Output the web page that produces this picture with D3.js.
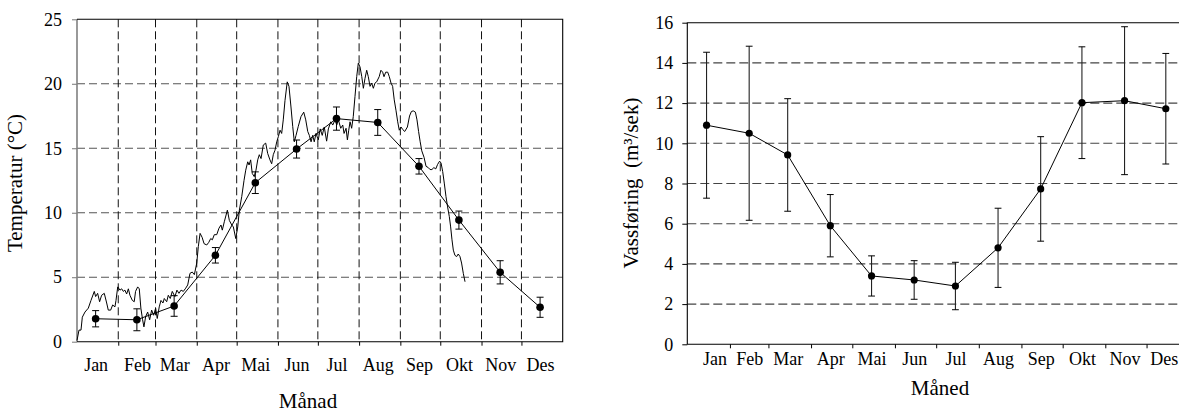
<!DOCTYPE html>
<html>
<head>
<meta charset="utf-8">
<script src="https://cdn.jsdelivr.net/npm/d3@7"></script>
<style>
  html, body { margin: 0; padding: 0; background: #fff; }
  svg { display: block; font-family: "Liberation Serif", "Times New Roman", serif; }
  .tick text { font-family: "Liberation Serif", "Times New Roman", serif; font-size: 18px; fill: #000; }
</style>
</head>
<body>
<svg id="chart" width="1179" height="412"></svg>
<script>
// Month names and lengths (x axes run over day of year)
const months = ["Jan", "Feb", "Mar", "Apr", "Mai", "Jun", "Jul", "Aug", "Sep", "Okt", "Nov", "Des"];
const monthDays = [31, 28, 31, 30, 31, 30, 31, 31, 30, 31, 30, 31];

// Monthly mean water temperature (°C) with ± spread
const tempMean = [1.78, 1.70, 2.77, 6.70, 12.33, 14.94, 17.30, 17.00, 13.60, 9.43, 5.38, 2.67];
const tempErr  = [0.63, 0.85, 0.80, 0.60, 0.84, 0.70, 0.90, 1.00, 0.60, 0.70, 0.90, 0.78];

// Daily temperature record for one year: [day of year, °C]
const dailyTemp = [
  [0,0.1],[1.5,0.9],[3,0.9],[4,1.9],[6,2.3],[8.5,2.6],[10.5,3.2],[13,3.9],[14,3.5],[15.5,3.75],
  [17,3.1],[18.5,3.6],[20.5,3.75],[22.3,3.0],[23.5,2.45],[25.3,2.45],[26.8,2.85],[28.5,2.7],[29.3,3.2],[30.6,4.25],
  [32.3,4.0],[33.6,4.1],[34.8,3.9],[36,4.0],[37.3,3.7],[38.6,4.1],[39.8,3.6],[41.6,3.2],[43,3.1],[44,3.9],
  [45.6,4.25],[46.8,4.1],[48,2.6],[49.3,1.7],[50.3,1.15],[51.6,1.95],[53.1,2.3],[54.6,1.7],[56.1,2.45],[57.6,2.05],
  [59.1,2.6],[60.3,1.8],[61.8,2.7],[63.1,3.2],[64.6,3.0],[65.6,3.35],[67.4,3.1],[68.6,3.6],[70.1,3.35],[71.6,3.9],
  [73.6,3.5],[75.1,4.0],[76.6,3.75],[78.2,4.0],[79.9,3.9],[81.7,4.15],[83.2,4.4],[84.9,5.3],[86.6,5.4],[88.2,5.2],
  [90,6.1],[91.2,7.4],[92.5,8.4],[94,8.1],[95.5,7.6],[97.5,7.5],[99,7.7],[100.5,8.0],[101.7,7.9],[103.2,8.3],
  [105,8.3],[106.7,8.8],[108.2,9.05],[109.2,8.65],[110.7,9.3],[113,10.2],[114.5,9.4],[116.3,9.05],[117.5,8.9],[119.3,8.0],
  [120.8,8.9],[122,10.2],[123.8,11.25],[125.5,12.5],[126.8,13.3],[128.3,13.95],[129.3,13.7],[130.5,14.1],[131.7,13.05],[133.2,12.8],
  [134.5,13.3],[135.8,14.1],[137,14.5],[138.3,14.2],[140,15.25],[141.8,15.4],[143.3,14.6],[145,14.1],[146.3,13.8],[147.5,14.5],
  [148.8,14.85],[150.1,15.5],[151.3,15.9],[152.6,16.4],[153.8,16.15],[155,17.2],[156.3,18.7],[158,20.15],[159.3,19.8],[160.8,18.2],
  [162.1,16.7],[163.3,15.5],[164.6,16.0],[166.3,16.7],[168.3,17.45],[170.4,17.8],[171.9,17.2],[173.4,16.3],[174.6,16.0],[175.9,15.5],
  [177.1,16.0],[178.3,15.5],[179.6,16.15],[181.3,15.65],[182.8,16.5],[184.3,16.0],[185.8,16.65],[187.6,15.55],[188.9,16.5],[190.7,17.05],
  [192.2,16.8],[193.9,17.2],[195.2,16.8],[196.4,17.2],[198.2,16.55],[199.7,16.8],[200.7,16.15],[202.2,16.55],[203.2,15.65],[204.2,16.4],
  [205.2,17.05],[206.4,16.55],[207.6,17.45],[208.9,19.0],[210.2,20.55],[211.4,21.6],[212.7,21.3],[214,20.55],[215.2,19.65],[216.4,20.4],
  [217.7,21.05],[218.9,20.55],[220.2,19.8],[221.4,20.05],[222.7,19.65],[223.9,20.05],[225.2,20.15],[227.1,20.55],[228.4,21.05],[229.7,20.9],
  [230.7,20.55],[232,20.9],[233.5,20.9],[234.7,20.55],[236,20.05],[237.2,19.8],[238.4,18.75],[239.7,17.95],[241,17.05],[242.2,16.4],
  [243.5,16.65],[244.8,16.45],[246.3,16.3],[248.3,16.65],[249.9,17.5],[251.3,17.85],[252.7,17.9],[254.3,17.8],[255.5,17.2],[256.7,16.3],
  [257.9,15.5],[259.1,14.8],[260.8,14.3],[262.3,13.6],[264,13.5],[265.3,13.35],[266.7,13.35],[268.2,13.5],[269.6,13.4],[271,13.75],
  [272.5,14.0],[273.6,13.85],[274.8,13.2],[276,12.3],[277.3,11.25],[278.5,10.45],[279.8,9.7],[280.8,8.9],[281.8,7.9],[282.8,7.1],
  [284,6.7],[285.3,6.6],[286.5,6.8],[287.8,6.6],[289,6.1],[290.3,5.3],[291.6,4.65]
];

// Monthly mean discharge (m³/s) with ± spread
const flowMean = [10.90, 10.50, 9.42, 5.90, 3.40, 3.20, 2.90, 4.80, 7.73, 12.02, 12.12, 11.72];
const flowErr  = [3.63, 4.33, 2.80, 1.55, 1.00, 0.96, 1.18, 1.97, 2.60, 2.78, 3.68, 2.75];

// Axis tick values
const tempTicks = [0, 5, 10, 15, 20, 25];
const tempGrid  = [5, 10, 15, 20];
const flowTicks = [0, 2, 4, 6, 8, 10, 12, 14, 16];
const flowGrid  = [2, 4, 6, 8, 10, 12, 14];

// Calendar helpers
const monthStart = [0, ...d3.cumsum(monthDays)].slice(0, 12);
const monthEdges = monthStart.slice(1);          // interior month boundaries
const monthMid = monthStart.map(s => s + 14);    // mid-month positions for means/labels

const serif = '"Liberation Serif", "Times New Roman", serif';
const svg = d3.select("#chart");

// Apply the serif face to an axis group (d3 defaults to sans-serif)
function styleAxis(g) {
  g.attr("font-family", serif).attr("font-size", 18);
  g.select(".domain").remove();
  return g;
}

// ---------- Left panel: temperature ----------
const xT = d3.scaleLinear().domain([0, 365]).range([77, 562.7]);
const yT = d3.scaleLinear().domain([0, 25]).range([341.7, 19.3]);
const gT = svg.append("g");

// horizontal dashed grid
gT.selectAll("line.hgrid").data(tempGrid).join("line")
  .attr("x1", xT(0)).attr("x2", xT(365))
  .attr("y1", d => yT(d)).attr("y2", d => yT(d))
  .attr("stroke", "#555").attr("stroke-width", 1.1).attr("stroke-dasharray", "8,4");

// vertical dashed grid at month boundaries
gT.selectAll("line.vgrid").data(monthEdges).join("line")
  .attr("x1", d => xT(d)).attr("x2", d => xT(d))
  .attr("y1", yT(25)).attr("y2", yT(0))
  .attr("stroke", "#111").attr("stroke-width", 1).attr("stroke-dasharray", "8,4");

// y axis
const yAxisT = styleAxis(gT.append("g").attr("transform", `translate(${xT(0)},0)`)
  .call(d3.axisLeft(yT).tickValues(tempTicks).tickSize(5).tickSizeOuter(0).tickPadding(10)));
yAxisT.selectAll(".tick line").attr("stroke", "#777");

// x axis: boundary ticks + month labels
styleAxis(gT.append("g").attr("transform", `translate(0,${yT(0)})`)
  .call(d3.axisBottom(xT).tickValues(monthEdges).tickSize(4).tickSizeOuter(0).tickFormat("")));
styleAxis(gT.append("g").attr("transform", `translate(0,${yT(0)})`)
  .call(d3.axisBottom(xT).tickValues(monthMid).tickSize(0).tickPadding(17)
        .tickFormat((d, i) => months[i])));

// frame
gT.append("line").attr("x1", xT(0)).attr("x2", xT(0)).attr("y1", yT(25)).attr("y2", yT(0))
  .attr("stroke", "#808080").attr("stroke-width", 1.6);
gT.append("path")
  .attr("d", `M${xT(0)},${yT(25)}H${xT(365)}V${yT(0)}H${xT(0)}`)
  .attr("fill", "none").attr("stroke", "#000").attr("stroke-width", 1.1);

// daily record
gT.append("path").datum(dailyTemp)
  .attr("d", d3.line().x(d => xT(d[0])).y(d => yT(d[1])))
  .attr("fill", "none").attr("stroke", "#000").attr("stroke-width", 1);

// monthly means
const tMeans = tempMean.map((v, i) => ({ day: monthMid[i], v, e: tempErr[i] }));
gT.append("path").datum(tMeans)
  .attr("d", d3.line().x(d => xT(d.day)).y(d => yT(d.v)))
  .attr("fill", "none").attr("stroke", "#000").attr("stroke-width", 1);
const ebT = gT.selectAll("g.eb").data(tMeans).join("g");
ebT.append("line").attr("x1", d => xT(d.day)).attr("x2", d => xT(d.day))
  .attr("y1", d => yT(d.v + d.e)).attr("y2", d => yT(d.v - d.e))
  .attr("stroke", "#000").attr("stroke-width", 1);
[1, -1].forEach(s => ebT.append("line")
  .attr("x1", d => xT(d.day) - 3.5).attr("x2", d => xT(d.day) + 3.5)
  .attr("y1", d => yT(d.v + s * d.e)).attr("y2", d => yT(d.v + s * d.e))
  .attr("stroke", "#000").attr("stroke-width", 1));
ebT.append("circle").attr("cx", d => xT(d.day)).attr("cy", d => yT(d.v)).attr("r", 3.8).attr("fill", "#000");

// titles
gT.append("text").attr("transform", "translate(22,183) rotate(-90)")
  .attr("text-anchor", "middle").attr("font-size", 21).text("Temperatur (°C)");
gT.append("text").attr("x", 308).attr("y", 408)
  .attr("text-anchor", "middle").attr("font-size", 21).text("Månad");

// ---------- Right panel: discharge ----------
const xF = d3.scaleLinear().domain([0, 365]).range([687.3, 687.3 + 365 * 1.375]);
const yF = d3.scaleLinear().domain([0, 16]).range([344.3, 22.7]);
const gF = svg.append("g");

gF.selectAll("line.hgrid").data(flowGrid).join("line")
  .attr("x1", xF(0)).attr("x2", xF(365))
  .attr("y1", d => yF(d)).attr("y2", d => yF(d))
  .attr("stroke", "#444").attr("stroke-width", 1.1).attr("stroke-dasharray", "9,4");

styleAxis(gF.append("g").attr("transform", `translate(${xF(0)},0)`)
  .call(d3.axisLeft(yF).tickValues(flowTicks).tickSize(5).tickSizeOuter(0).tickPadding(9)));

styleAxis(gF.append("g").attr("transform", `translate(0,${yF(0)})`)
  .call(d3.axisBottom(xF).tickValues(monthEdges).tickSize(4).tickSizeOuter(0).tickFormat("")));
const xLabF = styleAxis(gF.append("g").attr("transform", `translate(0,${yF(0)})`)
  .call(d3.axisBottom(xF).tickValues(monthMid).tickSize(0).tickPadding(8)
        .tickFormat((d, i) => months[i])));
xLabF.selectAll(".tick text").filter((d, i) => i === 0).attr("dx", 8);
xLabF.selectAll(".tick text").filter((d, i) => i === 11).attr("dx", -2);

gF.append("path")
  .attr("d", `M${xF(365)},${yF(16)}H${xF(0)}V${yF(0)}H${xF(365)}`)
  .attr("fill", "none").attr("stroke", "#000").attr("stroke-width", 1.1);

const fMeans = flowMean.map((v, i) => ({ day: monthMid[i], v, e: flowErr[i] }));
const ebF = gF.selectAll("g.eb").data(fMeans).join("g");
ebF.append("line").attr("x1", d => xF(d.day)).attr("x2", d => xF(d.day))
  .attr("y1", d => yF(d.v + d.e)).attr("y2", d => yF(d.v - d.e))
  .attr("stroke", "#222").attr("stroke-width", 1.1);
[1, -1].forEach(s => ebF.append("line")
  .attr("x1", d => xF(d.day) - 3.4).attr("x2", d => xF(d.day) + 3.4)
  .attr("y1", d => yF(d.v + s * d.e)).attr("y2", d => yF(d.v + s * d.e))
  .attr("stroke", "#000").attr("stroke-width", 1));
gF.append("path").datum(fMeans)
  .attr("d", d3.line().x(d => xF(d.day)).y(d => yF(d.v)))
  .attr("fill", "none").attr("stroke", "#000").attr("stroke-width", 1);
ebF.append("circle").attr("cx", d => xF(d.day)).attr("cy", d => yF(d.v)).attr("r", 3.6).attr("fill", "#000");

gF.append("text").attr("transform", "translate(638,183) rotate(-90)")
  .attr("text-anchor", "middle").attr("font-size", 21).style("white-space", "pre")
  .text("Vassføring  (m³/sek)");
gF.append("text").attr("x", 940).attr("y", 395)
  .attr("text-anchor", "middle").attr("font-size", 21).text("Måned");
</script>
</body>
</html>
